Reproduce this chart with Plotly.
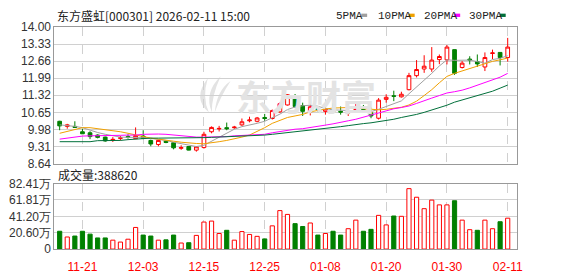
import plotly.graph_objects as go

dates = ["11-18", "11-19", "11-20", "11-21", "11-24", "11-25", "11-26", "11-27", "11-28",
         "12-01", "12-02", "12-03", "12-04", "12-05", "12-08", "12-09", "12-10", "12-11", "12-12",
         "12-15", "12-16", "12-17", "12-18", "12-19", "12-22", "12-23", "12-24", "12-25", "12-26",
         "12-29", "12-30", "12-31", "01-05", "01-06", "01-07", "01-08", "01-09", "01-12", "01-13",
         "01-14", "01-15", "01-16", "01-19", "01-20", "01-21", "01-22", "01-23", "01-26", "01-27",
         "01-28", "01-29", "01-30", "02-02", "02-03", "02-04", "02-05", "02-06", "02-09", "02-10", "02-11"]

opens = [10.30, 10.10, 10.10, 9.89, 9.85, 9.76, 9.68, 9.55, 9.63, 9.70,
         9.62, 9.72, 9.55, 9.39, 9.52, 9.46, 9.24, 9.31, 9.17, 9.27,
         9.89, 10.00, 10.05, 10.05, 10.16, 10.32, 10.30, 10.45, 10.41, 10.67,
         10.94, 11.29, 10.92, 10.66, 10.79, 10.69, 10.77, 10.69, 10.63, 10.74,
         10.76, 10.63, 10.42, 11.16, 11.30, 11.26, 11.54, 12.09, 12.35, 12.35,
         12.72, 12.71, 13.11, 12.41, 12.74, 12.64, 12.43, 12.96, 13.00, 12.80]
highs = [10.32, 10.20, 10.30, 10.01, 9.91, 9.79, 9.70, 9.68, 9.73, 9.79,
         10.06, 9.95, 9.58, 9.58, 9.55, 9.48, 9.36, 9.33, 9.33, 9.89,
         10.10, 10.12, 10.25, 10.12, 10.41, 10.48, 10.47, 10.59, 10.76, 11.04,
         11.37, 11.37, 11.03, 11.07, 10.90, 11.00, 11.00, 10.88, 10.79, 11.03,
         10.94, 10.84, 11.21, 11.36, 11.50, 11.46, 12.20, 12.70, 12.89, 13.21,
         12.92, 13.29, 13.11, 12.66, 12.85, 12.92, 13.00, 13.11, 13.00, 13.57]
lows = [9.95, 10.01, 10.04, 9.80, 9.60, 9.63, 9.50, 9.49, 9.55, 9.62,
        9.62, 9.60, 9.32, 9.32, 9.44, 9.20, 9.18, 9.16, 9.11, 9.23,
        9.83, 9.90, 9.95, 10.00, 10.12, 10.26, 10.26, 10.32, 10.37, 10.63,
        10.92, 10.82, 10.51, 10.53, 10.69, 10.56, 10.62, 10.56, 10.51, 10.63,
        10.63, 10.42, 10.37, 11.03, 11.09, 11.23, 11.51, 12.02, 12.20, 12.24,
        12.54, 12.53, 12.12, 12.37, 12.53, 12.43, 12.27, 12.74, 12.49, 12.64]
closes = [10.12, 10.16, 10.06, 9.81, 9.70, 9.67, 9.53, 9.59, 9.65, 9.67,
          9.74, 9.63, 9.41, 9.55, 9.47, 9.26, 9.27, 9.17, 9.30, 9.79,
          10.06, 10.02, 10.01, 10.07, 10.28, 10.35, 10.43, 10.41, 10.72, 10.99,
          11.34, 10.88, 10.69, 10.87, 10.76, 10.78, 10.66, 10.66, 10.72, 10.77,
          10.69, 10.51, 11.13, 11.24, 11.28, 11.36, 12.09, 12.33, 12.46, 12.70,
          12.84, 13.21, 12.18, 12.58, 12.70, 12.55, 12.80, 12.98, 12.80, 13.21]

ma5 = [10.16, 10.14, 10.10, 10.05, 9.95, 9.86, 9.79, 9.73, 9.68, 9.67,
       9.68, 9.67, 9.63, 9.60, 9.55, 9.48, 9.42, 9.36, 9.31, 9.36,
       9.51, 9.66, 9.83, 9.99, 10.09, 10.15, 10.22, 10.30, 10.43, 10.58,
       10.76, 10.86, 10.91, 10.93, 10.89, 10.80, 10.75, 10.74, 10.72, 10.72,
       10.70, 10.68, 10.77, 10.87, 10.97, 11.10, 11.38, 11.64, 11.89, 12.18,
       12.47, 12.71, 12.69, 12.70, 12.70, 12.64, 12.58, 12.72, 12.77, 12.87]
ma10 = [9.83, 9.91, 10.00, 10.05, 10.05, 10.01, 9.98, 9.93, 9.89, 9.83,
        9.76, 9.70, 9.64, 9.60, 9.55, 9.52, 9.48, 9.45, 9.43, 9.42,
        9.45, 9.50, 9.55, 9.60, 9.68, 9.76, 9.89, 10.05, 10.22, 10.35,
        10.45, 10.51, 10.57, 10.67, 10.74, 10.78, 10.82, 10.84, 10.84, 10.82,
        10.79, 10.76, 10.75, 10.77, 10.80, 10.85, 10.94, 11.09, 11.31, 11.54,
        11.81, 12.06, 12.18, 12.28, 12.37, 12.48, 12.58, 12.65, 12.71, 12.78]
ma20 = [9.60, 9.64, 9.70, 9.72, 9.73, 9.73, 9.73, 9.74, 9.75, 9.76,
        9.76, 9.79, 9.80, 9.80, 9.79, 9.76, 9.74, 9.70, 9.68, 9.68,
        9.68, 9.69, 9.70, 9.73, 9.74, 9.75, 9.76, 9.79, 9.85, 9.90,
        9.95, 9.99, 10.01, 10.05, 10.10, 10.15, 10.20, 10.25, 10.32, 10.38,
        10.46, 10.53, 10.62, 10.72, 10.79, 10.84, 10.90, 11.00, 11.09, 11.21,
        11.31, 11.41, 11.46, 11.52, 11.61, 11.71, 11.81, 11.91, 12.03, 12.18]
ma30 = [9.50, 9.50, 9.50, 9.50, 9.50, 9.54, 9.54, 9.54, 9.55, 9.58,
        9.60, 9.63, 9.64, 9.64, 9.64, 9.64, 9.64, 9.65, 9.66, 9.66,
        9.67, 9.68, 9.69, 9.70, 9.71, 9.72, 9.74, 9.76, 9.79, 9.82,
        9.85, 9.88, 9.92, 9.95, 9.98, 10.01, 10.05, 10.09, 10.13, 10.18,
        10.21, 10.24, 10.28, 10.33, 10.38, 10.45, 10.50, 10.57, 10.65, 10.74,
        10.84, 10.93, 11.05, 11.13, 11.21, 11.29, 11.37, 11.48, 11.60, 11.72]

volumes_wan = [22.4, 15.2, 16.4, 22.4, 18.8, 14.0, 14.0, 11.2, 8.8, 12.4,
               27.2, 17.6, 16.4, 11.2, 11.6, 17.6, 7.6, 8.0, 17.2, 34.0,
               35.2, 19.6, 23.6, 11.2, 22.0, 18.4, 16.0, 12.8, 29.2, 48.4,
               43.6, 32.0, 28.4, 32.8, 17.6, 19.6, 22.4, 17.6, 25.6, 36.4,
               22.4, 24.8, 42.4, 30.4, 41.6, 41.2, 76.0, 65.2, 50.8, 61.6,
               55.6, 55.6, 60.8, 36.4, 24.4, 23.6, 36.4, 25.6, 34.4, 38.862]
vol_up = [0, 1, 0, 0, 0, 0, 0, 1, 1, 1,
          1, 0, 0, 1, 0, 0, 1, 0, 1, 1,
          1, 1, 0, 1, 1, 1, 1, 0, 1, 1,
          1, 0, 0, 1, 0, 1, 0, 0, 1, 1,
          0, 0, 1, 1, 0, 1, 1, 1, 1, 1,
          1, 1, 0, 1, 1, 0, 1, 1, 0, 1]

price_ticks = [8.64, 9.31, 9.98, 10.65, 11.32, 11.99, 12.66, 13.33, 14.00]
vol_ticks = [0, 20.60, 41.20, 61.81, 82.41]
date_ticks = ["11-21", "12-03", "12-15", "12-25", "01-08", "01-20", "01-30", "02-11"]

RED = "#ff0000"
GREEN = "#008000"
MA_COLORS = {"5PMA": "#a0a0a0", "10PMA": "#f0a000", "20PMA": "#ff00ff", "30PMA": "#006f3a"}

W, H = 578, 276
PL, PR = 55, 522
P_TOP, P_BOT = 21, 165
V_TOP, V_BOT = 186, 255


def px(x):
    return x / W


def py(y):
    return 1 - y / H


fig = go.Figure()

for name, vals in [("5PMA", ma5), ("10PMA", ma10), ("20PMA", ma20), ("30PMA", ma30)]:
    fig.add_trace(go.Scatter(x=dates, y=vals, mode="lines", name=name,
                             line=dict(color=MA_COLORS[name], width=1),
                             xaxis="x", yaxis="y", showlegend=False))

fig.add_trace(go.Candlestick(
    x=dates, open=opens, high=highs, low=lows, close=closes,
    increasing=dict(line=dict(color=RED, width=1), fillcolor="#ffffff"),
    decreasing=dict(line=dict(color=GREEN, width=1), fillcolor=GREEN),
    whiskerwidth=0, xaxis="x", yaxis="y", showlegend=False))

fig.add_trace(go.Bar(
    x=dates, y=volumes_wan,
    marker=dict(color=["#ffffff" if u else GREEN for u in vol_up],
                line=dict(color=[RED if u else GREEN for u in vol_up], width=1)),
    width=0.55, xaxis="x2", yaxis="y2", showlegend=False))

xr = [-0.69, 60.17]
grid = "#d0d0d0"
frame = "#999999"
tickfont = dict(family="Liberation Sans, Arial", size=12, color="#333333")

fig.update_layout(
    width=W, height=H, margin=dict(l=0, r=0, t=0, b=0),
    paper_bgcolor="white", plot_bgcolor="white",
    boxgap=0.3,
    xaxis=dict(domain=[px(PL), px(PR)], type="category", categoryorder="array",
               categoryarray=dates, range=xr, tickvals=date_ticks, showticklabels=False,
               showgrid=True, gridcolor=grid, griddash="dash", gridwidth=1,
               showline=True, linecolor=frame, mirror=True, ticks="",
               rangeslider=dict(visible=False), anchor="y", zeroline=False),
    yaxis=dict(domain=[py(P_BOT), py(P_TOP)], range=[8.64, 14.00], tickvals=price_ticks,
               ticktext=[f"{v:.2f}" for v in price_ticks], tickfont=tickfont,
               showgrid=True, gridcolor=grid, gridwidth=1, showline=True, linecolor=frame,
               mirror=True, ticks="", anchor="x", zeroline=False),
    xaxis2=dict(domain=[px(PL), px(PR)], type="category", categoryorder="array",
                categoryarray=dates, range=xr, tickvals=date_ticks, ticktext=date_ticks,
                tickfont=dict(family="Liberation Sans, Arial", size=12, color=RED),
                ticklabelstandoff=7,
                showgrid=True, gridcolor=grid, griddash="dash", gridwidth=1,
                showline=True, linecolor=frame, mirror=True, ticks="",
                anchor="y2", zeroline=False),
    yaxis2=dict(domain=[py(V_BOT), py(V_TOP)], range=[0, 82.41], tickvals=vol_ticks,
                ticktext=["0" if v == 0 else f"{v:.2f}万" for v in vol_ticks], tickfont=tickfont,
                showgrid=True, gridcolor=grid, gridwidth=1, showline=True, linecolor=frame,
                mirror=True, ticks="", anchor="x2", zeroline=False),
)

cjk = "Noto Sans CJK SC"
fig.add_annotation(text="东方盛虹[000301] 2026-02-11 15:00", x=px(56), y=py(9), xref="paper", yref="paper",
                   xanchor="left", yanchor="middle", showarrow=False,
                   font=dict(family=cjk, size=12, color="#222222"))
fig.add_annotation(text="成交量:388620", x=px(57), y=py(176), xref="paper", yref="paper",
                   xanchor="left", yanchor="middle", showarrow=False,
                   font=dict(family=cjk, size=12, color="#222222"))

# watermark text + logo
WM = "#e3e3e3"
fig.add_annotation(text="<b>东方财富</b>", x=px(309), y=py(93), xref="paper", yref="paper",
                   xanchor="center", yanchor="middle", showarrow=False,
                   font=dict(family=cjk, size=35, color=WM))


def pth(pts):
    # pts: list of ("M"/"Q"/"L", coords...) in pixel space
    out = []
    for cmd, *c in pts:
        coords = []
        for i in range(0, len(c), 2):
            coords.append(f"{px(c[i]):.5f},{py(c[i + 1]):.5f}")
        out.append(cmd + " " + " ".join(coords))
    return " ".join(out) + " Z"


petals = [
    [("M", 211, 111), ("Q", 194, 96, 210, 75), ("Q", 204, 95, 211, 111)],
    [("M", 214, 111), ("Q", 206, 90, 223, 73), ("Q", 214, 93, 214, 111)],
    [("M", 217, 111), ("Q", 219, 88, 233, 78), ("Q", 223, 94, 217, 111)],
]
for p in petals:
    fig.add_shape(type="path", xref="paper", yref="paper", path=pth(p),
                  fillcolor=WM, line=dict(width=0), layer="below")

# legend
legend_pos = [("5PMA", 338, 365), ("10PMA", 380, 413), ("20PMA", 426, 459), ("30PMA", 472, 505)]
for name, tx, sx in legend_pos:
    fig.add_annotation(text=name, x=px(tx), y=py(9), xref="paper", yref="paper",
                       xanchor="left", yanchor="middle", showarrow=False,
                       font=dict(family="Liberation Mono", size=11, color="#222222"))
    fig.add_shape(type="rect", xref="paper", yref="paper", x0=px(sx), x1=px(sx + 6),
                  y0=py(10.5), y1=py(7), fillcolor=MA_COLORS[name], line=dict(width=0),
                  layer="above")

fig.write_html("out.html")
